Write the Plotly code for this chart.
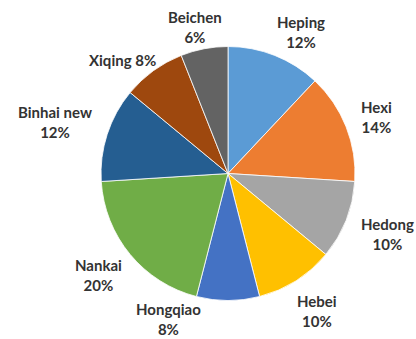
import plotly.graph_objects as go

# District shares (percent), clockwise from 12 o'clock
districts = ["Heping", "Hexi", "Hedong", "Hebei", "Hongqiao",
             "Nankai", "Binhai new", "Xiqing", "Beichen"]
shares = [12, 14, 10, 10, 8, 20, 12, 8, 6]

colors = ["#5B9BD5", "#ED7D31", "#A5A5A5", "#FFC000", "#4472C4",
          "#70AD47", "#255E91", "#9E480E", "#636363"]

W, H = 416, 339
CX, CY, R = 228, 173.5, 127  # pie centre and radius in pixels

# label centres (pixels from top-left) and whether to break the line
label_pos = [(301, 32), (376, 117), (387, 234), (317, 311), (168, 319),
             (98, 275), (55, 122), (122, 60), (195, 27)]
one_line = {"Xiqing"}

fig = go.Figure(go.Pie(
    labels=districts,
    values=shares,
    sort=False,
    direction="clockwise",
    rotation=0,
    marker=dict(colors=colors, line=dict(color="white", width=0.8)),
    textinfo="none",
    hoverinfo="label+percent",
    showlegend=False,
    domain=dict(x=[(CX - R) / W, (CX + R) / W],
                y=[(H - CY - R) / H, (H - CY + R) / H]),
))

total = sum(shares)
for name, val, (px, py) in zip(districts, shares, label_pos):
    pct = f"{round(100 * val / total)}%"
    sep = " " if name in one_line else "<br>"
    fig.add_annotation(
        x=px / W, y=1 - py / H, xref="paper", yref="paper",
        text=f"<b>{name}{sep}{pct}</b>",
        showarrow=False, align="center",
        xanchor="center", yanchor="middle",
        font=dict(family="Lato", size=15, color="#333333"),
    )

fig.update_layout(
    width=W, height=H,
    margin=dict(l=0, r=0, t=0, b=0),
    paper_bgcolor="white", plot_bgcolor="white",
)

fig.write_html("out.html")
